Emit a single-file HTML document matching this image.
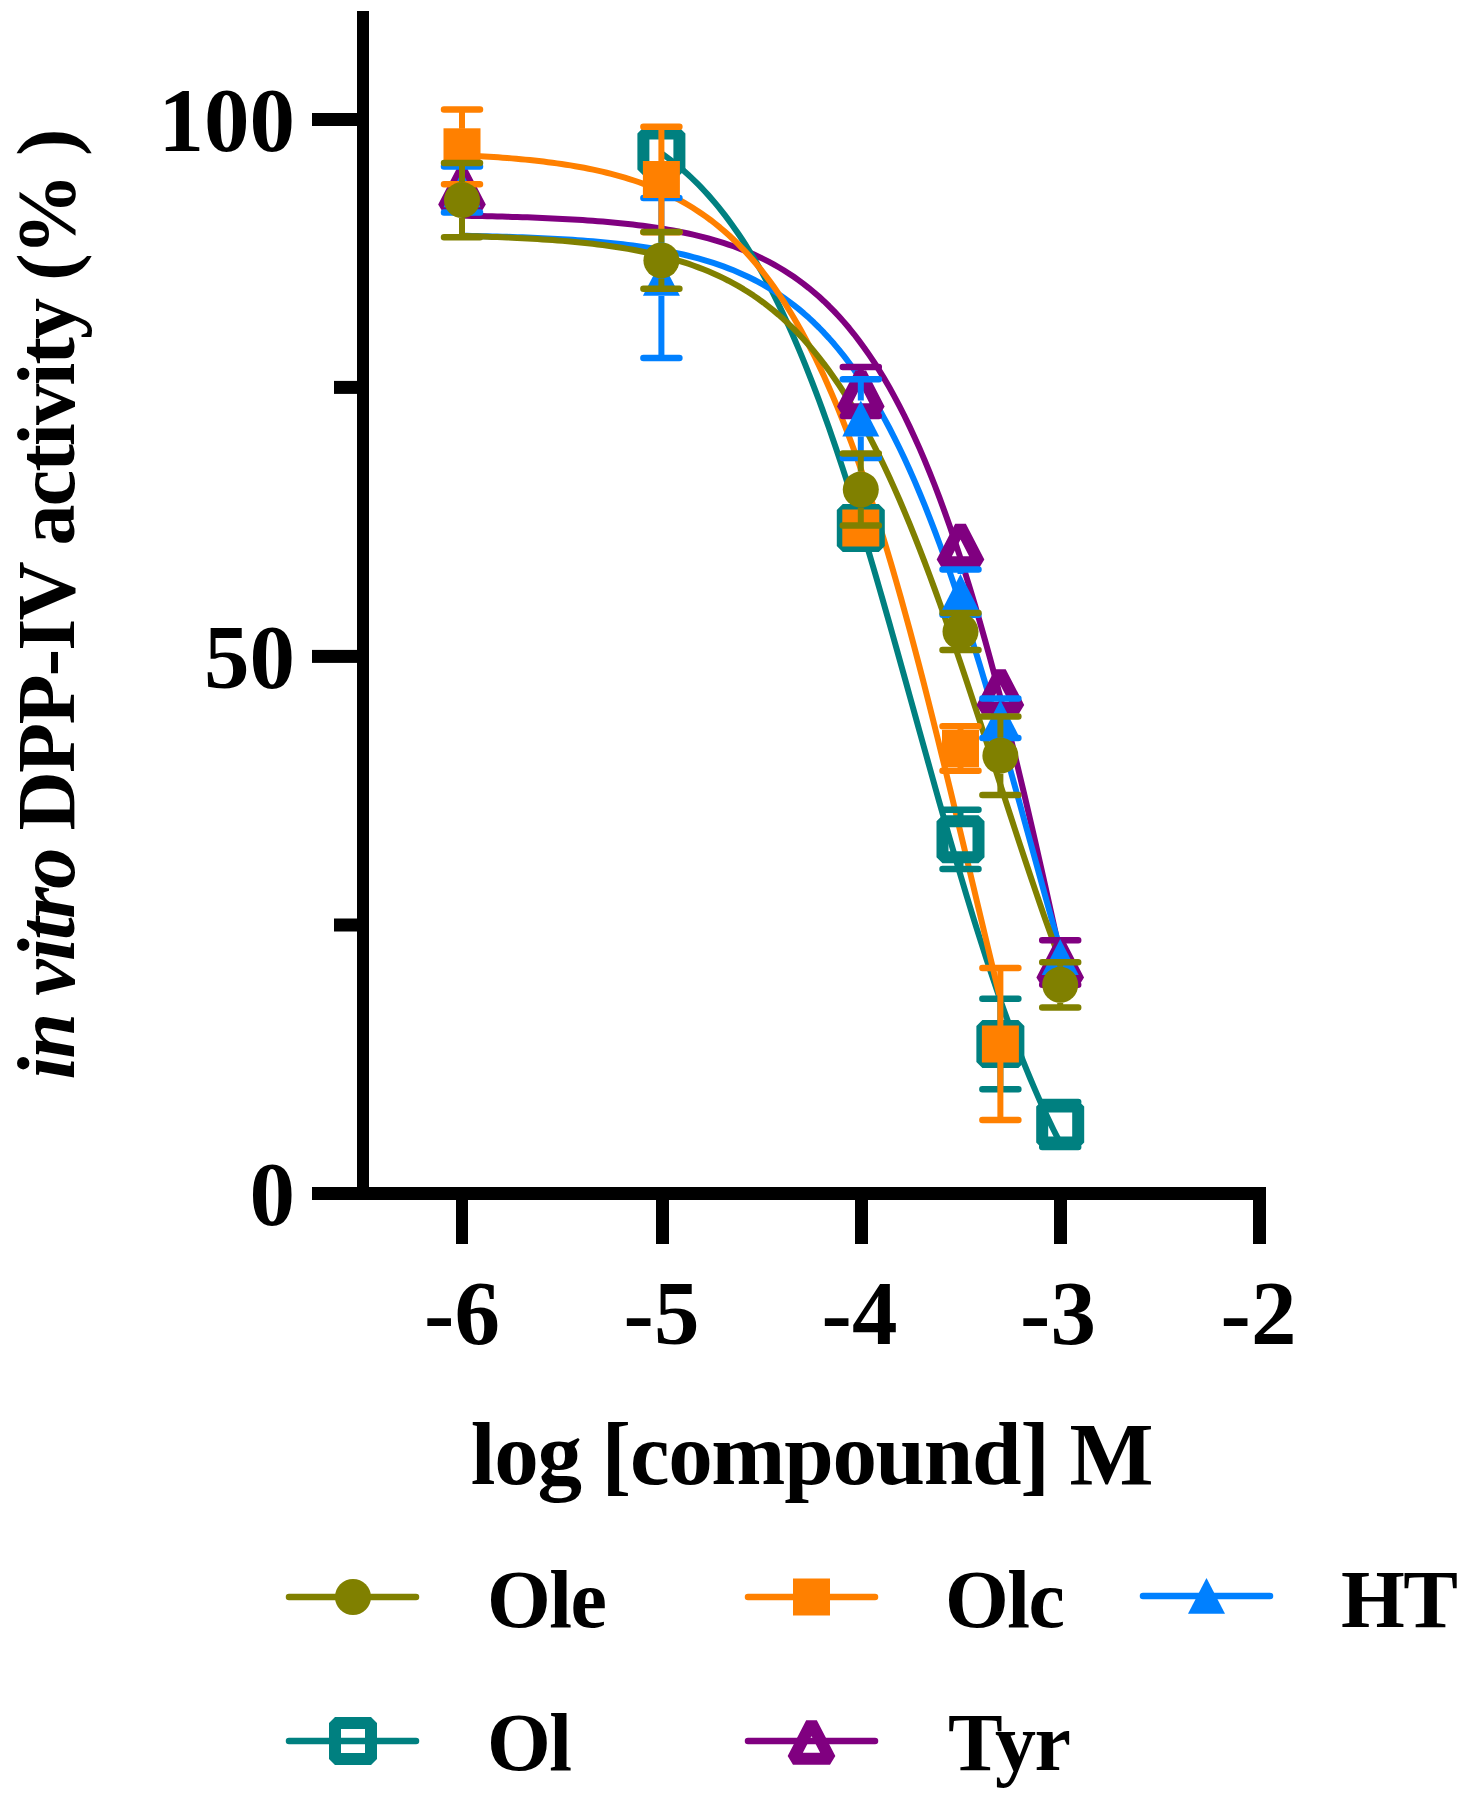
<!DOCTYPE html>
<html><head><meta charset="utf-8"><style>
html,body{margin:0;padding:0;background:#fff;}
body{width:1470px;height:1795px;overflow:hidden;font-family:"Liberation Serif",serif;}
svg{display:block;}
</style></head><body>
<svg width="1470" height="1795" viewBox="0 0 1470 1795">
<rect width="1470" height="1795" fill="#fff"/>
<path d="M462.00,215.74 L467.03,215.83 L472.05,215.92 L477.08,216.02 L482.11,216.12 L487.13,216.23 L492.16,216.34 L497.19,216.46 L502.22,216.59 L507.24,216.73 L512.27,216.88 L517.30,217.03 L522.32,217.19 L527.35,217.37 L532.38,217.55 L537.40,217.74 L542.43,217.95 L547.46,218.16 L552.48,218.39 L557.51,218.64 L562.54,218.89 L567.56,219.16 L572.59,219.45 L577.62,219.76 L582.65,220.08 L587.67,220.42 L592.70,220.79 L597.73,221.17 L602.75,221.58 L607.78,222.01 L612.81,222.46 L617.83,222.94 L622.86,223.45 L627.89,223.99 L632.91,224.56 L637.94,225.17 L642.97,225.81 L647.99,226.48 L653.02,227.20 L658.05,227.96 L663.08,228.76 L668.10,229.61 L673.13,230.50 L678.16,231.45 L683.18,232.46 L688.21,233.52 L693.24,234.64 L698.26,235.83 L703.29,237.09 L708.32,238.42 L713.34,239.82 L718.37,241.31 L723.40,242.88 L728.43,244.54 L733.45,246.29 L738.48,248.14 L743.51,250.10 L748.53,252.17 L753.56,254.35 L758.59,256.66 L763.61,259.10 L768.64,261.67 L773.67,264.38 L778.69,267.25 L783.72,270.27 L788.75,273.46 L793.77,276.82 L798.80,280.37 L803.83,284.11 L808.86,288.05 L813.88,292.20 L818.91,296.57 L823.94,301.18 L828.96,306.02 L833.99,311.12 L839.02,316.48 L844.04,322.12 L849.07,328.05 L854.10,334.27 L859.12,340.81 L864.15,347.67 L869.18,354.87 L874.21,362.42 L879.23,370.33 L884.26,378.62 L889.29,387.29 L894.31,396.36 L899.34,405.85 L904.37,415.76 L909.39,426.11 L914.42,436.90 L919.45,448.15 L924.47,459.87 L929.50,472.07 L934.53,484.76 L939.55,497.93 L944.58,511.61 L949.61,525.79 L954.64,540.48 L959.66,555.68 L964.69,571.40 L969.72,587.62 L974.74,604.36 L979.77,621.59 L984.80,639.32 L989.82,657.54 L994.85,676.24 L999.88,695.40 L1004.90,715.01 L1009.93,735.06 L1014.96,755.51 L1019.98,776.35 L1025.01,797.56 L1030.04,819.11 L1035.07,840.97 L1040.09,863.11 L1045.12,885.50 L1050.15,908.11 L1055.17,930.90 L1060.20,953.83" stroke="#800080" stroke-width="6" fill="none" stroke-linejoin="round"/><path d="M661.40,153.23 L664.75,155.61 L668.10,158.07 L671.45,160.62 L674.81,163.26 L678.16,165.99 L681.51,168.82 L684.86,171.74 L688.21,174.76 L691.56,177.88 L694.91,181.11 L698.26,184.45 L701.62,187.90 L704.97,191.46 L708.32,195.14 L711.67,198.94 L715.02,202.86 L718.37,206.91 L721.72,211.09 L725.07,215.40 L728.43,219.84 L731.78,224.43 L735.13,229.15 L738.48,234.02 L741.83,239.03 L745.18,244.20 L748.53,249.51 L751.88,254.98 L755.24,260.61 L758.59,266.40 L761.94,272.35 L765.29,278.47 L768.64,284.75 L771.99,291.20 L775.34,297.83 L778.69,304.62 L782.05,311.59 L785.40,318.74 L788.75,326.07 L792.10,333.57 L795.45,341.25 L798.80,349.11 L802.15,357.15 L805.50,365.37 L808.86,373.76 L812.21,382.34 L815.56,391.10 L818.91,400.03 L822.26,409.14 L825.61,418.42 L828.96,427.87 L832.31,437.49 L835.67,447.28 L839.02,457.23 L842.37,467.34 L845.72,477.61 L849.07,488.02 L852.42,498.59 L855.77,509.30 L859.12,520.14 L862.48,531.12 L865.83,542.22 L869.18,553.44 L872.53,564.77 L875.88,576.21 L879.23,587.74 L882.58,599.37 L885.93,611.08 L889.29,622.87 L892.64,634.72 L895.99,646.63 L899.34,658.59 L902.69,670.60 L906.04,682.63 L909.39,694.69 L912.74,706.77 L916.10,718.85 L919.45,730.93 L922.80,743.00 L926.15,755.04 L929.50,767.06 L932.85,779.04 L936.20,790.97 L939.55,802.85 L942.91,814.66 L946.26,826.39 L949.61,838.05 L952.96,849.62 L956.31,861.10 L959.66,872.47 L963.01,883.73 L966.36,894.87 L969.72,905.89 L973.07,916.78 L976.42,927.54 L979.77,938.16 L983.12,948.63 L986.47,958.95 L989.82,969.12 L993.17,979.12 L996.53,988.97 L999.88,998.65 L1003.23,1008.17 L1006.58,1017.51 L1009.93,1026.68 L1013.28,1035.67 L1016.63,1044.49 L1019.98,1053.13 L1023.34,1061.60 L1026.69,1069.88 L1030.04,1077.98 L1033.39,1085.91 L1036.74,1093.65 L1040.09,1101.22 L1043.44,1108.60 L1046.79,1115.81 L1050.15,1122.85 L1053.50,1129.71 L1056.85,1136.39 L1060.20,1142.91" stroke="#008080" stroke-width="6" fill="none" stroke-linejoin="round"/><path d="M462.00,235.75 L467.03,235.85 L472.05,235.95 L477.08,236.05 L482.11,236.16 L487.13,236.28 L492.16,236.41 L497.19,236.54 L502.22,236.69 L507.24,236.84 L512.27,237.00 L517.30,237.17 L522.32,237.35 L527.35,237.54 L532.38,237.74 L537.40,237.95 L542.43,238.18 L547.46,238.42 L552.48,238.68 L557.51,238.95 L562.54,239.23 L567.56,239.54 L572.59,239.86 L577.62,240.20 L582.65,240.56 L587.67,240.94 L592.70,241.35 L597.73,241.78 L602.75,242.23 L607.78,242.72 L612.81,243.23 L617.83,243.77 L622.86,244.35 L627.89,244.95 L632.91,245.60 L637.94,246.28 L642.97,247.00 L647.99,247.77 L653.02,248.58 L658.05,249.44 L663.08,250.35 L668.10,251.31 L673.13,252.33 L678.16,253.41 L683.18,254.55 L688.21,255.76 L693.24,257.04 L698.26,258.39 L703.29,259.83 L708.32,261.34 L713.34,262.94 L718.37,264.64 L723.40,266.43 L728.43,268.32 L733.45,270.33 L738.48,272.44 L743.51,274.68 L748.53,277.04 L753.56,279.53 L758.59,282.16 L763.61,284.94 L768.64,287.88 L773.67,290.97 L778.69,294.24 L783.72,297.68 L788.75,301.31 L793.77,305.13 L798.80,309.16 L803.83,313.40 L808.86,317.86 L813.88,322.55 L818.91,327.49 L823.94,332.68 L828.96,338.13 L833.99,343.85 L839.02,349.86 L844.04,356.16 L849.07,362.77 L854.10,369.69 L859.12,376.93 L864.15,384.51 L869.18,392.44 L874.21,400.72 L879.23,409.36 L884.26,418.37 L889.29,427.77 L894.31,437.55 L899.34,447.72 L904.37,458.30 L909.39,469.27 L914.42,480.66 L919.45,492.46 L924.47,504.66 L929.50,517.28 L934.53,530.31 L939.55,543.75 L944.58,557.58 L949.61,571.82 L954.64,586.43 L959.66,601.43 L964.69,616.79 L969.72,632.50 L974.74,648.55 L979.77,664.91 L984.80,681.57 L989.82,698.51 L994.85,715.70 L999.88,733.12 L1004.90,750.74 L1009.93,768.54 L1014.96,786.49 L1019.98,804.55 L1025.01,822.71 L1030.04,840.92 L1035.07,859.16 L1040.09,877.39 L1045.12,895.59 L1050.15,913.72 L1055.17,931.75 L1060.20,949.66" stroke="#0080FF" stroke-width="6" fill="none" stroke-linejoin="round"/><path d="M462.00,155.18 L466.52,155.41 L471.05,155.64 L475.57,155.88 L480.10,156.14 L484.62,156.42 L489.15,156.70 L493.67,157.00 L498.19,157.32 L502.72,157.66 L507.24,158.01 L511.77,158.38 L516.29,158.77 L520.81,159.18 L525.34,159.62 L529.86,160.07 L534.39,160.55 L538.91,161.05 L543.44,161.59 L547.96,162.15 L552.48,162.73 L557.01,163.35 L561.53,164.00 L566.06,164.69 L570.58,165.41 L575.11,166.17 L579.63,166.97 L584.15,167.81 L588.68,168.69 L593.20,169.62 L597.73,170.60 L602.25,171.63 L606.77,172.71 L611.30,173.85 L615.82,175.05 L620.35,176.30 L624.87,177.63 L629.40,179.02 L633.92,180.48 L638.44,182.02 L642.97,183.63 L647.49,185.33 L652.02,187.11 L656.54,188.98 L661.06,190.95 L665.59,193.02 L670.11,195.19 L674.64,197.47 L679.16,199.86 L683.69,202.37 L688.21,205.00 L692.73,207.77 L697.26,210.67 L701.78,213.71 L706.31,216.90 L710.83,220.24 L715.36,223.75 L719.88,227.42 L724.40,231.26 L728.93,235.29 L733.45,239.51 L737.98,243.93 L742.50,248.55 L747.02,253.38 L751.55,258.43 L756.07,263.71 L760.60,269.23 L765.12,274.99 L769.65,281.01 L774.17,287.29 L778.69,293.84 L783.22,300.68 L787.74,307.79 L792.27,315.21 L796.79,322.93 L801.32,330.96 L805.84,339.31 L810.36,348.00 L814.89,357.01 L819.41,366.37 L823.94,376.08 L828.46,386.15 L832.98,396.57 L837.51,407.37 L842.03,418.53 L846.56,430.06 L851.08,441.98 L855.61,454.27 L860.13,466.94 L864.65,479.99 L869.18,493.42 L873.70,507.22 L878.23,521.40 L882.75,535.95 L887.27,550.86 L891.80,566.13 L896.32,581.74 L900.85,597.69 L905.37,613.97 L909.90,630.56 L914.42,647.45 L918.94,664.63 L923.47,682.08 L927.99,699.77 L932.52,717.70 L937.04,735.85 L941.57,754.18 L946.09,772.68 L950.61,791.33 L955.14,810.10 L959.66,828.97 L964.19,847.92 L968.71,866.91 L973.23,885.92 L977.76,904.94 L982.28,923.92 L986.81,942.85 L991.33,961.71 L995.86,980.45 L1000.38,999.08" stroke="#FF8000" stroke-width="6" fill="none" stroke-linejoin="round"/><path d="M462.00,235.94 L467.03,236.07 L472.05,236.22 L477.08,236.37 L482.11,236.53 L487.13,236.70 L492.16,236.88 L497.19,237.07 L502.22,237.27 L507.24,237.49 L512.27,237.71 L517.30,237.96 L522.32,238.21 L527.35,238.48 L532.38,238.77 L537.40,239.07 L542.43,239.39 L547.46,239.73 L552.48,240.09 L557.51,240.47 L562.54,240.87 L567.56,241.30 L572.59,241.75 L577.62,242.23 L582.65,242.74 L587.67,243.27 L592.70,243.84 L597.73,244.44 L602.75,245.08 L607.78,245.75 L612.81,246.47 L617.83,247.22 L622.86,248.02 L627.89,248.86 L632.91,249.76 L637.94,250.70 L642.97,251.70 L647.99,252.76 L653.02,253.88 L658.05,255.07 L663.08,256.32 L668.10,257.64 L673.13,259.04 L678.16,260.51 L683.18,262.08 L688.21,263.72 L693.24,265.47 L698.26,267.31 L703.29,269.25 L708.32,271.30 L713.34,273.46 L718.37,275.75 L723.40,278.16 L728.43,280.70 L733.45,283.38 L738.48,286.20 L743.51,289.18 L748.53,292.31 L753.56,295.61 L758.59,299.09 L763.61,302.74 L768.64,306.59 L773.67,310.63 L778.69,314.88 L783.72,319.34 L788.75,324.03 L793.77,328.95 L798.80,334.11 L803.83,339.51 L808.86,345.18 L813.88,351.11 L818.91,357.32 L823.94,363.80 L828.96,370.58 L833.99,377.66 L839.02,385.05 L844.04,392.75 L849.07,400.77 L854.10,409.12 L859.12,417.80 L864.15,426.81 L869.18,436.17 L874.21,445.87 L879.23,455.91 L884.26,466.30 L889.29,477.04 L894.31,488.12 L899.34,499.55 L904.37,511.31 L909.39,523.41 L914.42,535.83 L919.45,548.57 L924.47,561.62 L929.50,574.96 L934.53,588.59 L939.55,602.48 L944.58,616.63 L949.61,631.02 L954.64,645.62 L959.66,660.41 L964.69,675.38 L969.72,690.51 L974.74,705.76 L979.77,721.11 L984.80,736.55 L989.82,752.04 L994.85,767.56 L999.88,783.08 L1004.90,798.57 L1009.93,814.01 L1014.96,829.38 L1019.98,844.65 L1025.01,859.79 L1030.04,874.79 L1035.07,889.61 L1040.09,904.24 L1045.12,918.65 L1050.15,932.84 L1055.17,946.77 L1060.20,960.44" stroke="#808000" stroke-width="6" fill="none" stroke-linejoin="round"/><path d="M462.00,171.40 L480.50,207.30 L443.50,207.30 Z" fill="none" stroke="#800080" stroke-width="12" stroke-linejoin="bevel"/><path d="M860.80,366.90 L860.80,373.40 M860.80,409.40 L860.80,415.90" stroke="#800080" stroke-width="6" fill="none"/><path d="M842.80,366.90 L878.80,366.90 M842.80,415.90 L878.80,415.90" stroke="#800080" stroke-width="6.5" stroke-linecap="round" fill="none"/><path d="M860.80,373.30 L879.30,409.20 L842.30,409.20 Z" fill="none" stroke="#800080" stroke-width="12" stroke-linejoin="bevel"/><path d="M960.50,526.40 L979.00,562.30 L942.00,562.30 Z" fill="none" stroke="#800080" stroke-width="12" stroke-linejoin="bevel"/><path d="M1000.38,671.90 L1018.88,707.80 L981.88,707.80 Z" fill="none" stroke="#800080" stroke-width="12" stroke-linejoin="bevel"/><path d="M1060.20,940.20 L1060.20,944.50 M1060.20,980.50 L1060.20,984.80" stroke="#800080" stroke-width="6" fill="none"/><path d="M1042.20,940.20 L1078.20,940.20 M1042.20,984.80 L1078.20,984.80" stroke="#800080" stroke-width="6.5" stroke-linecap="round" fill="none"/><path d="M1060.20,944.40 L1078.70,980.30 L1041.70,980.30 Z" fill="none" stroke="#800080" stroke-width="12" stroke-linejoin="bevel"/><rect x="643.40" y="133.50" width="36" height="36" fill="none" stroke="#008080" stroke-width="12" stroke-linejoin="bevel"/><rect x="842.80" y="510.00" width="36" height="36" fill="none" stroke="#008080" stroke-width="12" stroke-linejoin="bevel"/><path d="M960.50,809.70 L960.50,821.30 M960.50,857.30 L960.50,868.90" stroke="#008080" stroke-width="6" fill="none"/><path d="M942.50,809.70 L978.50,809.70 M942.50,868.90 L978.50,868.90" stroke="#008080" stroke-width="6.5" stroke-linecap="round" fill="none"/><rect x="942.50" y="821.30" width="36" height="36" fill="none" stroke="#008080" stroke-width="12" stroke-linejoin="bevel"/><path d="M1000.38,998.80 L1000.38,1026.00 M1000.38,1062.00 L1000.38,1089.20" stroke="#008080" stroke-width="6" fill="none"/><path d="M982.38,998.80 L1018.38,998.80 M982.38,1089.20 L1018.38,1089.20" stroke="#008080" stroke-width="6.5" stroke-linecap="round" fill="none"/><rect x="982.38" y="1026.00" width="36" height="36" fill="none" stroke="#008080" stroke-width="12" stroke-linejoin="bevel"/><path d="M1060.20,1102.00 L1060.20,1106.50 M1060.20,1142.50 L1060.20,1147.00" stroke="#008080" stroke-width="6" fill="none"/><path d="M1042.20,1102.00 L1078.20,1102.00 M1042.20,1147.00 L1078.20,1147.00" stroke="#008080" stroke-width="6.5" stroke-linecap="round" fill="none"/><rect x="1042.20" y="1106.50" width="36" height="36" fill="none" stroke="#008080" stroke-width="12" stroke-linejoin="bevel"/><path d="M462.00,166.60 L462.00,171.50 M462.00,207.50 L462.00,212.40" stroke="#0080FF" stroke-width="6" fill="none"/><path d="M444.00,166.60 L480.00,166.60 M444.00,212.40 L480.00,212.40" stroke="#0080FF" stroke-width="6.5" stroke-linecap="round" fill="none"/><path d="M462.00,171.40 L480.50,207.30 L443.50,207.30 Z" fill="#0080FF"/><path d="M661.40,198.00 L661.40,260.00 M661.40,296.00 L661.40,358.00" stroke="#0080FF" stroke-width="6" fill="none"/><path d="M643.40,198.00 L679.40,198.00 M643.40,358.00 L679.40,358.00" stroke="#0080FF" stroke-width="6.5" stroke-linecap="round" fill="none"/><path d="M661.40,259.90 L679.90,295.80 L642.90,295.80 Z" fill="#0080FF"/><path d="M860.80,379.20 L860.80,400.60 M860.80,436.60 L860.80,458.00" stroke="#0080FF" stroke-width="6" fill="none"/><path d="M842.80,379.20 L878.80,379.20 M842.80,458.00 L878.80,458.00" stroke="#0080FF" stroke-width="6.5" stroke-linecap="round" fill="none"/><path d="M860.80,400.50 L879.30,436.40 L842.30,436.40 Z" fill="#0080FF"/><path d="M960.50,569.40 L960.50,574.10 M960.50,610.10 L960.50,614.80" stroke="#0080FF" stroke-width="6" fill="none"/><path d="M942.50,569.40 L978.50,569.40 M942.50,614.80 L978.50,614.80" stroke="#0080FF" stroke-width="6.5" stroke-linecap="round" fill="none"/><path d="M960.50,574.00 L979.00,609.90 L942.00,609.90 Z" fill="#0080FF"/><path d="M1000.38,698.40 L1000.38,700.20 M1000.38,736.20 L1000.38,738.00" stroke="#0080FF" stroke-width="6" fill="none"/><path d="M982.38,698.40 L1018.38,698.40 M982.38,738.00 L1018.38,738.00" stroke="#0080FF" stroke-width="6.5" stroke-linecap="round" fill="none"/><path d="M1000.38,700.10 L1018.88,736.00 L981.88,736.00 Z" fill="#0080FF"/><path d="M1060.20,939.10 L1078.70,975.00 L1041.70,975.00 Z" fill="#0080FF"/><path d="M462.00,109.40 L462.00,128.80 M462.00,164.80 L462.00,184.20" stroke="#FF8000" stroke-width="6" fill="none"/><path d="M444.00,109.40 L480.00,109.40 M444.00,184.20 L480.00,184.20" stroke="#FF8000" stroke-width="6.5" stroke-linecap="round" fill="none"/><rect x="443.50" y="128.30" width="37" height="37" fill="#FF8000"/><path d="M661.40,126.80 L661.40,161.50 M661.40,197.50 L661.40,232.20" stroke="#FF8000" stroke-width="6" fill="none"/><path d="M643.40,126.80 L679.40,126.80 M643.40,232.20 L679.40,232.20" stroke="#FF8000" stroke-width="6.5" stroke-linecap="round" fill="none"/><rect x="642.90" y="161.00" width="37" height="37" fill="#FF8000"/><rect x="842.30" y="509.50" width="37" height="37" fill="#FF8000"/><path d="M960.50,726.20 L960.50,730.50 M960.50,766.50 L960.50,770.80" stroke="#FF8000" stroke-width="6" fill="none"/><path d="M942.50,726.20 L978.50,726.20 M942.50,770.80 L978.50,770.80" stroke="#FF8000" stroke-width="6.5" stroke-linecap="round" fill="none"/><rect x="942.00" y="730.00" width="37" height="37" fill="#FF8000"/><path d="M1000.38,968.10 L1000.38,1026.00 M1000.38,1062.00 L1000.38,1119.90" stroke="#FF8000" stroke-width="6" fill="none"/><path d="M982.38,968.10 L1018.38,968.10 M982.38,1119.90 L1018.38,1119.90" stroke="#FF8000" stroke-width="6.5" stroke-linecap="round" fill="none"/><rect x="981.88" y="1025.50" width="37" height="37" fill="#FF8000"/><path d="M462.00,162.90 L462.00,182.10 M462.00,218.10 L462.00,237.30" stroke="#808000" stroke-width="6" fill="none"/><path d="M444.00,162.90 L480.00,162.90 M444.00,237.30 L480.00,237.30" stroke="#808000" stroke-width="6.5" stroke-linecap="round" fill="none"/><circle cx="462.00" cy="200.10" r="18" fill="#808000"/><path d="M661.40,232.10 L661.40,242.40 M661.40,278.40 L661.40,288.70" stroke="#808000" stroke-width="6" fill="none"/><path d="M643.40,232.10 L679.40,232.10 M643.40,288.70 L679.40,288.70" stroke="#808000" stroke-width="6.5" stroke-linecap="round" fill="none"/><circle cx="661.40" cy="260.40" r="18" fill="#808000"/><path d="M860.80,453.60 L860.80,471.60 M860.80,507.60 L860.80,525.60" stroke="#808000" stroke-width="6" fill="none"/><path d="M842.80,453.60 L878.80,453.60 M842.80,525.60 L878.80,525.60" stroke="#808000" stroke-width="6.5" stroke-linecap="round" fill="none"/><circle cx="860.80" cy="489.60" r="18" fill="#808000"/><path d="M960.50,613.10 L960.50,613.60 M960.50,649.60 L960.50,650.10" stroke="#808000" stroke-width="6" fill="none"/><path d="M942.50,613.10 L978.50,613.10 M942.50,650.10 L978.50,650.10" stroke="#808000" stroke-width="6.5" stroke-linecap="round" fill="none"/><circle cx="960.50" cy="631.60" r="18" fill="#808000"/><path d="M1000.38,716.50 L1000.38,737.70 M1000.38,773.70 L1000.38,794.90" stroke="#808000" stroke-width="6" fill="none"/><path d="M982.38,716.50 L1018.38,716.50 M982.38,794.90 L1018.38,794.90" stroke="#808000" stroke-width="6.5" stroke-linecap="round" fill="none"/><circle cx="1000.38" cy="755.70" r="18" fill="#808000"/><path d="M1060.20,962.20 L1060.20,966.80 M1060.20,1002.80 L1060.20,1007.40" stroke="#808000" stroke-width="6" fill="none"/><path d="M1042.20,962.20 L1078.20,962.20 M1042.20,1007.40 L1078.20,1007.40" stroke="#808000" stroke-width="6.5" stroke-linecap="round" fill="none"/><circle cx="1060.20" cy="984.80" r="18" fill="#808000"/>
<rect x="357" y="11" width="12" height="1189" fill="#000"/><rect x="312" y="1187" width="954" height="13" fill="#000"/><rect x="312" y="113.0" width="50" height="13" fill="#000"/><rect x="312" y="649.9" width="50" height="13" fill="#000"/><rect x="334" y="380.9" width="28" height="13" fill="#000"/><rect x="334" y="918.5" width="28" height="13" fill="#000"/><rect x="456" y="1195" width="12" height="49" fill="#000"/><rect x="656" y="1195" width="13" height="49" fill="#000"/><rect x="855" y="1195" width="13" height="49" fill="#000"/><rect x="1054" y="1195" width="13" height="49" fill="#000"/><rect x="1253" y="1195" width="13" height="49" fill="#000"/>
<text x="295" y="150.5" font-family="Liberation Serif" font-weight="bold" font-size="91" text-anchor="end">100</text><text x="295" y="688" font-family="Liberation Serif" font-weight="bold" font-size="91" text-anchor="end">50</text><text x="295" y="1225" font-family="Liberation Serif" font-weight="bold" font-size="91" text-anchor="end">0</text><text x="462.0" y="1343.5" font-family="Liberation Serif" font-weight="bold" font-size="91" text-anchor="middle">-6</text><text x="661.5" y="1343.5" font-family="Liberation Serif" font-weight="bold" font-size="91" text-anchor="middle">-5</text><text x="859.5" y="1343.5" font-family="Liberation Serif" font-weight="bold" font-size="91" text-anchor="middle">-4</text><text x="1058.0" y="1343.5" font-family="Liberation Serif" font-weight="bold" font-size="91" text-anchor="middle">-3</text><text x="1258.5" y="1343.5" font-family="Liberation Serif" font-weight="bold" font-size="91" text-anchor="middle">-2</text><text x="811.5" y="1483.5" font-family="Liberation Serif" font-weight="bold" font-size="89" text-anchor="middle" letter-spacing="-1.3">log [compound] M</text><text transform="translate(74,605) rotate(-90)" font-family="Liberation Serif" font-weight="bold" font-size="82" text-anchor="middle" letter-spacing="-1.7"><tspan font-style="italic">in vitro</tspan> DPP-IV activity (% )</text>
<path d="M289,1597 L416,1597" stroke="#808000" stroke-width="6.5" stroke-linecap="round"/><circle cx="353.00" cy="1597.00" r="18" fill="#808000"/><text x="487" y="1627" font-family="Liberation Serif" font-weight="bold" font-size="82" letter-spacing="-1.5">Ole</text><path d="M748,1597 L875,1597" stroke="#FF8000" stroke-width="6.5" stroke-linecap="round"/><rect x="793.00" y="1578.50" width="37" height="37" fill="#FF8000"/><text x="945" y="1627" font-family="Liberation Serif" font-weight="bold" font-size="82" letter-spacing="-1.5">Olc</text><path d="M1143,1596 L1270,1596" stroke="#0080FF" stroke-width="6.5" stroke-linecap="round"/><path d="M1206.50,1577.90 L1225.00,1613.80 L1188.00,1613.80 Z" fill="#0080FF"/><text x="1341" y="1627" font-family="Liberation Serif" font-weight="bold" font-size="82" letter-spacing="-1.5">HT</text><path d="M289,1741 L416,1741" stroke="#008080" stroke-width="6.5" stroke-linecap="round"/><rect x="335.00" y="1723.00" width="36" height="36" fill="none" stroke="#008080" stroke-width="12" stroke-linejoin="bevel"/><text x="487" y="1770" font-family="Liberation Serif" font-weight="bold" font-size="82" letter-spacing="-1.5">Ol</text><path d="M748,1741 L875,1741" stroke="#800080" stroke-width="6.5" stroke-linecap="round"/><path d="M811.50,1722.90 L830.00,1758.80 L793.00,1758.80 Z" fill="none" stroke="#800080" stroke-width="12" stroke-linejoin="bevel"/><text x="948" y="1770" font-family="Liberation Serif" font-weight="bold" font-size="82" letter-spacing="-1.5">Tyr</text>
</svg>
</body></html>
